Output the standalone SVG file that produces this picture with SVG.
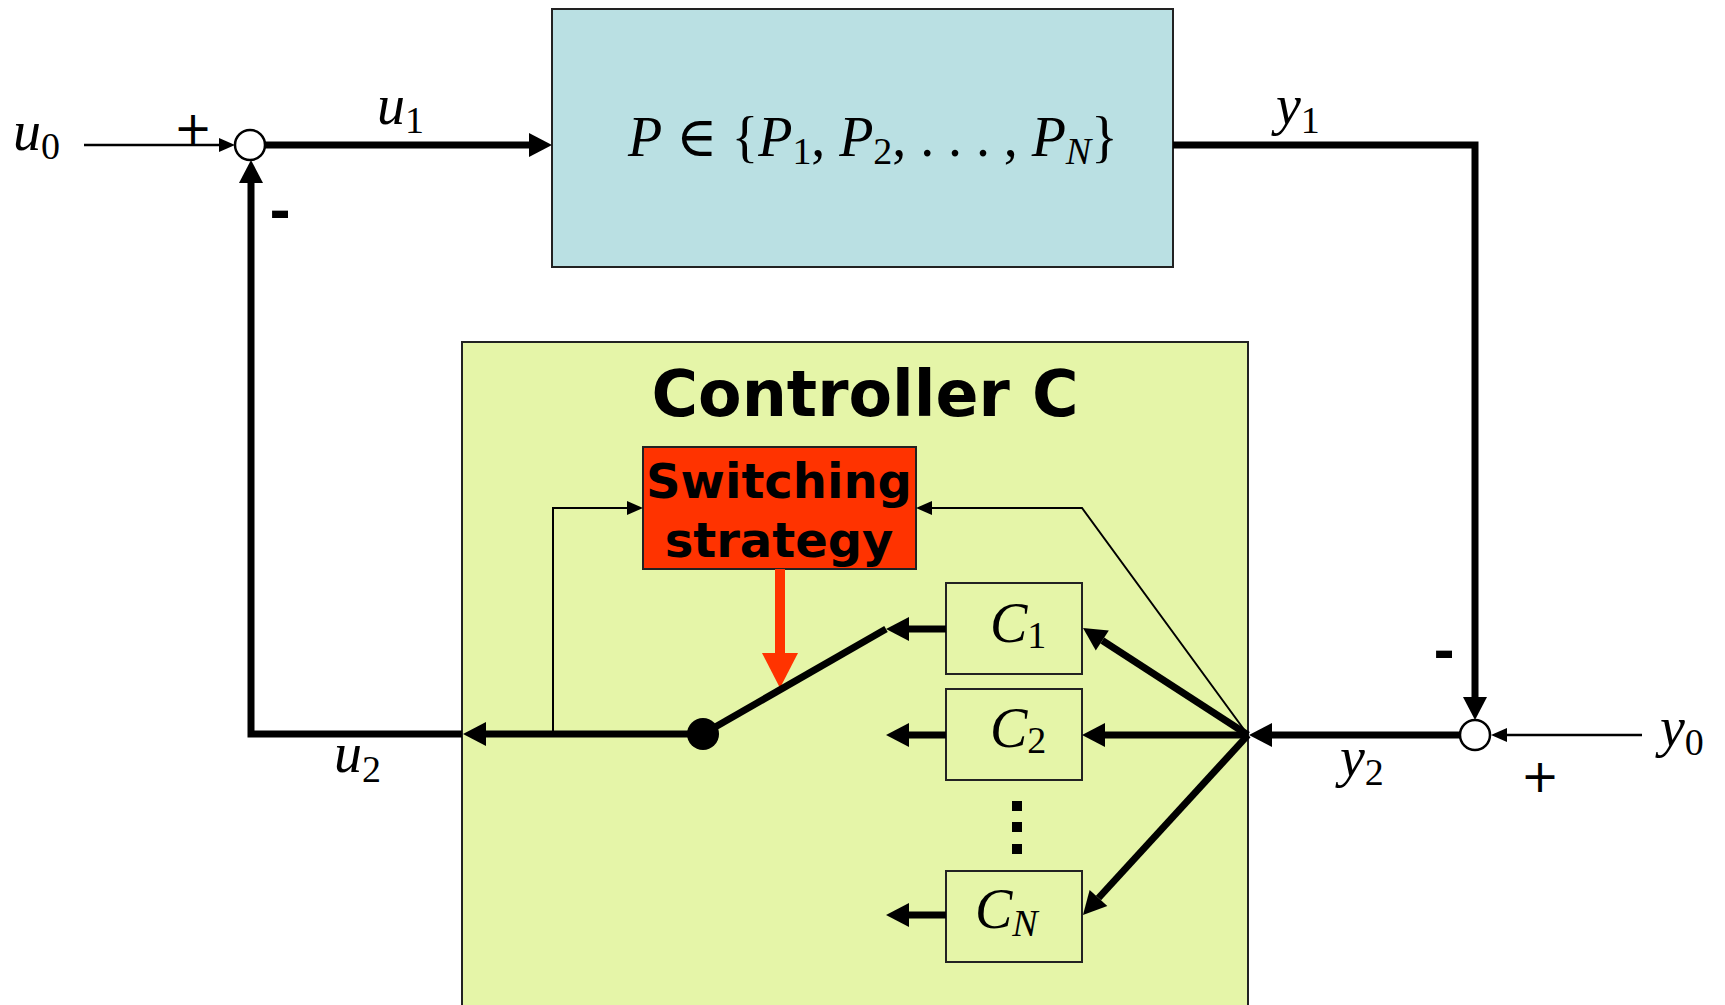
<svg xmlns="http://www.w3.org/2000/svg" width="1725" height="1005" viewBox="0 0 1725 1005">
<style>
.box{stroke:#222;stroke-width:2}
.thick{fill:none;stroke:#000;stroke-width:7;stroke-linejoin:miter;stroke-linecap:butt}
.thin{fill:none;stroke:#000;stroke-width:2.5}
.hair{fill:none;stroke:#000;stroke-width:2}
.sum{fill:#fff;stroke:#000;stroke-width:2.5}
.math{font-family:"Liberation Serif","DejaVu Serif",serif;font-size:56px;fill:#000}
.it{font-style:italic}
.sub{font-size:38px}
.sign{font-family:"DejaVu Sans",sans-serif;font-size:46px;fill:#000;text-anchor:middle}
.minus{font-family:"DejaVu Sans",sans-serif;font-weight:bold;font-size:52px;fill:#000;text-anchor:middle}
.bold{font-family:"DejaVu Sans",sans-serif;font-weight:bold;fill:#000;text-anchor:middle}
</style>
<defs>
<marker id="ah" markerUnits="userSpaceOnUse" markerWidth="30" markerHeight="30" refX="0" refY="0" orient="auto" overflow="visible"><path d="M0,-12 L23,0 L0,12 z" fill="#000"/></marker>
<marker id="ahThin" markerUnits="userSpaceOnUse" markerWidth="20" markerHeight="20" refX="0" refY="0" orient="auto" overflow="visible"><path d="M0,-7 L16,0 L0,7 z" fill="#000"/></marker>
<marker id="ahRed" markerUnits="userSpaceOnUse" markerWidth="40" markerHeight="40" refX="0" refY="0" orient="auto" overflow="visible"><path d="M0,-18 L35,0 L0,18 z" fill="#ff3300"/></marker>
</defs>
<rect width="1725" height="1005" fill="#fff"/>

<g id="controller">
<rect class="box" x="462" y="342" width="786" height="680" fill="#e5f5a8"/>
<text class="bold" x="865" y="416" font-size="64" textLength="427" lengthAdjust="spacingAndGlyphs">Controller C</text>
</g>

<g id="plant">
<rect class="box" x="552" y="9" width="621" height="258" fill="#bae0e3"/>
<text class="math" x="628" y="156" textLength="490"><tspan class="it">P</tspan> ∈ {<tspan class="it">P</tspan><tspan class="sub" dy="8">1</tspan><tspan dy="-8">, </tspan><tspan class="it">P</tspan><tspan class="sub" dy="8">2</tspan><tspan dy="-8">, . . . , </tspan><tspan class="it">P</tspan><tspan class="sub it" dy="8">N</tspan><tspan dy="-8">}</tspan></text>
</g>

<g id="switching">
<rect class="box" x="643" y="447" width="273" height="122" fill="#ff3300"/>
<text class="bold" x="779" y="498" font-size="48">Switching</text>
<text class="bold" x="779" y="557" font-size="48">strategy</text>
</g>

<g id="c1">
<rect class="box" x="946" y="583" width="136" height="91" fill="none"/>
<text class="math" x="990" y="642"><tspan class="it">C</tspan><tspan class="sub" dy="6">1</tspan></text>
</g>
<g id="c2">
<rect class="box" x="946" y="689" width="136" height="91" fill="none"/>
<text class="math" x="990" y="747"><tspan class="it">C</tspan><tspan class="sub" dy="6">2</tspan></text>
</g>
<g id="cn">
<rect class="box" x="946" y="871" width="136" height="91" fill="none"/>
<text class="math" x="975" y="928"><tspan class="it">C</tspan><tspan class="sub it" dy="8">N</tspan></text>
</g>
<g id="dots">
<rect x="1012" y="801" width="10" height="10" fill="#000"/>
<rect x="1012" y="822" width="10" height="10" fill="#000"/>
<rect x="1012" y="844" width="10" height="10" fill="#000"/>
</g>

<g id="connectors">
<line class="thin" x1="84" y1="145" x2="219" y2="145" marker-end="url(#ahThin)"/>
<line class="thick" x1="265" y1="145" x2="529" y2="145" marker-end="url(#ah)"/>
<polyline class="thick" points="1173,145 1475,145 1475,697" marker-end="url(#ah)"/>
<line class="thin" x1="1642" y1="735" x2="1507" y2="735" marker-end="url(#ahThin)"/>
<line class="thick" x1="1460" y1="735" x2="1272" y2="735" marker-end="url(#ah)"/>
<line class="thick" x1="1248" y1="735" x2="1102.3" y2="640.5" marker-end="url(#ah)"/>
<line class="thick" x1="1248" y1="735" x2="1105" y2="735" marker-end="url(#ah)"/>
<line class="thick" x1="1248" y1="735" x2="1098.5" y2="898" marker-end="url(#ah)"/>
<polyline class="hair" points="1248,735 1082,508 932,508" marker-end="url(#ahThin)"/>
<line class="thick" x1="946" y1="629" x2="909" y2="629" marker-end="url(#ah)"/>
<line class="thick" x1="946" y1="735" x2="909" y2="735" marker-end="url(#ah)"/>
<line class="thick" x1="946" y1="915" x2="909" y2="915" marker-end="url(#ah)"/>
<line x1="780" y1="569" x2="780" y2="653" stroke="#ff3300" stroke-width="10" marker-end="url(#ahRed)"/>
<line class="thick" x1="703" y1="734" x2="486" y2="734" marker-end="url(#ah)"/>
<polyline class="hair" points="553,734 553,508 627,508" marker-end="url(#ahThin)"/>
<polyline class="thick" points="462,734 251,734 251,183" marker-end="url(#ah)"/>
</g>

<g id="switch">
<line class="thick" x1="703" y1="734" x2="886" y2="629"/>
<circle cx="703" cy="734" r="16" fill="#000"/>
</g>

<g id="sum1">
<circle class="sum" cx="250" cy="145" r="15"/>
<text class="sign" x="193" y="144">+</text>
<text class="minus" x="280" y="229">-</text>
</g>
<g id="sum2">
<circle class="sum" cx="1475" cy="735" r="15"/>
<text class="sign" x="1540" y="792">+</text>
<text class="minus" x="1444" y="669">-</text>
</g>

<g id="labels">
<text class="math" x="13" y="150"><tspan class="it">u</tspan><tspan class="sub" dy="9">0</tspan></text>
<text class="math" x="377" y="124"><tspan class="it">u</tspan><tspan class="sub" dy="9">1</tspan></text>
<text class="math" x="1276" y="124"><tspan class="it">y</tspan><tspan class="sub" dy="9">1</tspan></text>
<text class="math" x="334" y="772"><tspan class="it">u</tspan><tspan class="sub" dy="10">2</tspan></text>
<text class="math" x="1340" y="776"><tspan class="it">y</tspan><tspan class="sub" dy="9">2</tspan></text>
<text class="math" x="1660" y="746"><tspan class="it">y</tspan><tspan class="sub" dy="9">0</tspan></text>
</g>
</svg>
